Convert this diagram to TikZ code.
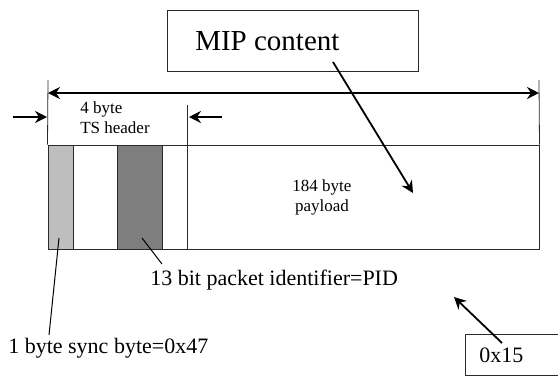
\documentclass[tikz,border=0pt]{standalone}
\usepackage{fontspec}
\setmainfont{Liberation Serif}
\usetikzlibrary{arrows.meta}
\definecolor{syncgray}{HTML}{BEBEBE}
\definecolor{pidgray}{HTML}{7E7E7E}
\definecolor{linegray}{HTML}{2A2A2A}

\begin{document}
\begin{tikzpicture}[x=1pt, y=-1pt, >={Stealth[length=12pt, width=12pt, inset=4pt]}, semithick,
    field/.style={draw=linegray, line width=1pt, inner sep=0pt, minimum height=104pt},
    txtbox/.style={draw=linegray, line width=1pt, inner sep=0pt},
    small/.style={font=\fontsize{17}{20}\selectfont, inner sep=0pt},
    mid/.style={font=\fontsize{22}{26}\selectfont, inner sep=0pt},
    big/.style={font=\fontsize{29}{34}\selectfont, inner sep=0pt},
    dim/.style={draw=linegray, line width=0.8pt},
    pointer/.style={->, draw=black, line width=1.8pt}]
  \useasboundingbox (0,0) rectangle (558,376);

  % boxes with text
  \node[txtbox, minimum width=251pt, minimum height=61pt] (mip) at (292.5,40.5) {};
  \node[big, anchor=base west]   (miptxt) at (195,50) {MIP content};
  \node[txtbox, minimum width=93pt, minimum height=41pt] (val) at (511.5,354.5) {};
  \node[mid, anchor=base west]   (valtxt) at (479,362) {0x15};

  % the packet and its fields
  \node[field, minimum width=491pt]                   (packet) at (293.5,197) {};
  \node[field, minimum width=25pt, fill=syncgray]     (sync)   at (60.5,197)  {};
  \node[field, minimum width=45pt, fill=pidgray]      (pid)    at (139.5,197) {};

  % labels
  \node[small, anchor=north west, align=left]  (hdrtxt)  at (80,101)  {4 byte\\TS header};
  \node[small, anchor=north, align=center]     (paytxt)  at (322,179) {184 byte\\payload};
  \node[mid, anchor=base west]                 (pidtxt)  at (150,285) {13 bit packet identifier=PID};
  \node[mid, anchor=base west]                 (synctxt) at (8,353)   {1 byte sync byte=0x47};

  % dimension marks
  \coordinate (ltop)  at (48,80);
  \coordinate (rtop)  at (539,80);
  \coordinate (htop)  at (187,105);
  \coordinate (hbot)  at (187,249);
  \coordinate (larr)  at (48,93);
  \coordinate (rarr)  at (539,93);
  \coordinate (lin)   at (13,117);
  \coordinate (lend)  at (47,117);
  \coordinate (rin)   at (222,117);
  \coordinate (rend)  at (189,117);
  \draw[dim] (ltop) -- (packet.north west);
  \draw[dim] (rtop) -- (packet.north east);
  \draw[dim] (htop) -- (hbot);

  % pointer ends
  \coordinate (mipfrom)  at (333,62);
  \coordinate (mipto)    at (413,193);
  \coordinate (valfrom)  at (502,343);
  \coordinate (valto)    at (454,297);
  \coordinate (pidin)    at (142,238);
  \coordinate (pidout)   at (162,264);
  \coordinate (syncin)   at (59,238);
  \coordinate (syncout)  at (49,335);

  \path
    % whole packet length
    (larr) edge[pointer, <->]  (rarr)
    % header start and end
    (lin) edge[pointer]        (lend)
    (rin) edge[pointer]        (rend)
    % MIP content goes into the payload
    (mipfrom) edge[pointer]    (mipto)
    % PID value
    (valfrom) edge[pointer]    (valto)
    % field labels
    (pidin) edge[draw=black, line width=1pt, -]  (pidout)
    (syncin) edge[draw=black, line width=1pt, -] (syncout);

\end{tikzpicture}
\end{document}
